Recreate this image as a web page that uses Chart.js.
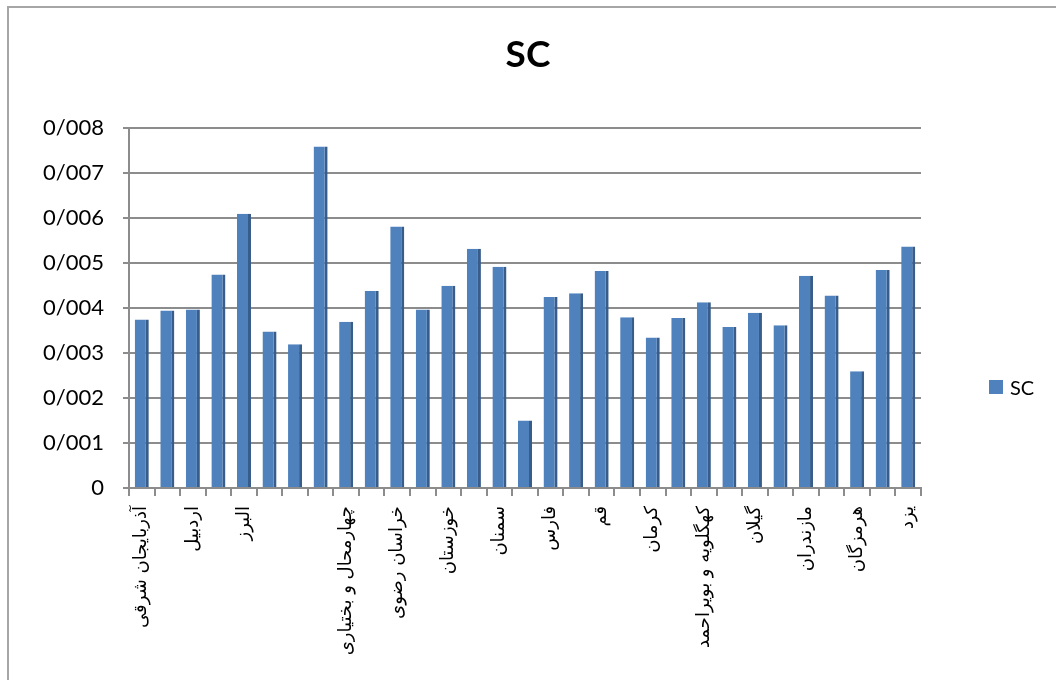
<!DOCTYPE html>
<html>
<head>
<meta charset="utf-8">
<script src="https://cdn.jsdelivr.net/npm/chart.js@4/dist/chart.umd.min.js"></script>
<style>
  body { margin: 0; background: #fff; }
  #wrap { position: relative; width: 1056px; height: 680px; overflow: hidden; }
  #frame { position: absolute; left: 7px; top: 6px; width: 1100px; height: 720px;
           border-left: 2px solid #a6a6a6; border-top: 2px solid #a6a6a6; }
  #legend { position: absolute; left: 989px; top: 375px; font: 20px Lato, sans-serif;
            color: #000; display: flex; align-items: center; }
  #legend span.box { display: inline-block; width: 14px; height: 14px; margin-right: 7px; }
</style>
</head>
<body>
<div id="wrap">
  <div id="frame"></div>
  <canvas id="chart" width="1056" height="680"></canvas>
  <div id="legend"></div>
</div>
<script>
// ── data ──────────────────────────────────────────────
var categories = [
  'آذربایجان شرقی', 'آذربایجان غربی', 'اردبیل', 'اصفهان', 'البرز', 'ایلام',
  'بوشهر', 'تهران', 'چهارمحال و بختیاری', 'خراسان جنوبی', 'خراسان رضوی',
  'خراسان شمالی', 'خوزستان', 'زنجان', 'سمنان', 'سیستان و بلوچستان', 'فارس',
  'قزوین', 'قم', 'کردستان', 'کرمان', 'کرمانشاه', 'کهگلویه و بویراحمد', 'گلستان',
  'گیلان', 'لرستان', 'مازندران', 'مرکزی', 'هرمزگان', 'همدان', 'یزد'
];
var scValues = [
  0.00375, 0.00395, 0.00397, 0.00475, 0.0061, 0.00348,
  0.0032, 0.0076, 0.0037, 0.00438, 0.00582,
  0.00397, 0.0045, 0.00532, 0.00492, 0.0015, 0.00425,
  0.00433, 0.00483, 0.0038, 0.00335, 0.00378, 0.00413, 0.00358,
  0.0039, 0.00362, 0.00472, 0.00428, 0.0026, 0.00485, 0.00537
];
var yTickLabels = ['0', '0/001', '0/002', '0/003', '0/004', '0/005', '0/006', '0/007', '0/008'];
// the reference leaves this one category label blank
var hiddenLabels = [6];

var GRID = '#8c8c8c';

var chart = new Chart(document.getElementById('chart'), {
  type: 'bar',
  data: {
    labels: categories,
    datasets: [{
      label: 'SC',
      data: scValues,
      backgroundColor: '#4f81bd',
      borderColor: '#385d8a',
      borderWidth: { top: 0, right: 3, bottom: 0, left: 0 },
      borderSkipped: false,
      barPercentage: 0.55,
      categoryPercentage: 1
    }]
  },
  options: {
    responsive: false,
    animation: false,
    layout: { padding: 0 },
    plugins: {
      legend: { display: false },
      tooltip: { enabled: false },
      title: {
        display: true,
        text: 'SC',
        color: '#000',
        font: { family: 'Lato', size: 37, weight: 'bold' },
        padding: { top: 33, bottom: 51 }
      }
    },
    scales: {
      x: {
        afterFit: function (s) { s.height = 192; },
        grid: { drawOnChartArea: false, color: GRID, lineWidth: 2, tickLength: 8 },
        border: { color: GRID, width: 2 },
        ticks: {
          autoSkip: false,
          minRotation: 90,
          maxRotation: 90,
          padding: 10,
          color: '#000',
          font: { family: 'DejaVu Sans', size: 18 },
          callback: function (v, i) {
            if (i % 2 === 1 || hiddenLabels.indexOf(i) >= 0) return '';
            return categories[i];
          }
        }
      },
      y: {
        min: 0,
        max: 0.008,
        afterFit: function (s) { s.width = 129; },
        grid: { color: GRID, lineWidth: 2, tickLength: 6 },
        border: { color: GRID, width: 2 },
        ticks: {
          stepSize: 0.001,
          padding: 19,
          color: '#000',
          font: { family: 'Lato', size: 22 },
          callback: function (v, i) { return yTickLabels[i]; }
        }
      },
      // empty right-hand strip that leaves room for the legend
      gap: {
        type: 'linear',
        position: 'right',
        afterFit: function (s) { s.width = 135; },
        grid: { display: false },
        border: { display: false },
        ticks: { display: false }
      }
    }
  }
});

// legend built from the dataset
var ds = chart.data.datasets[0];
document.getElementById('legend').innerHTML =
  '<span class="box" style="background:' + ds.backgroundColor + '"></span>' + ds.label;
</script>
</body>
</html>
